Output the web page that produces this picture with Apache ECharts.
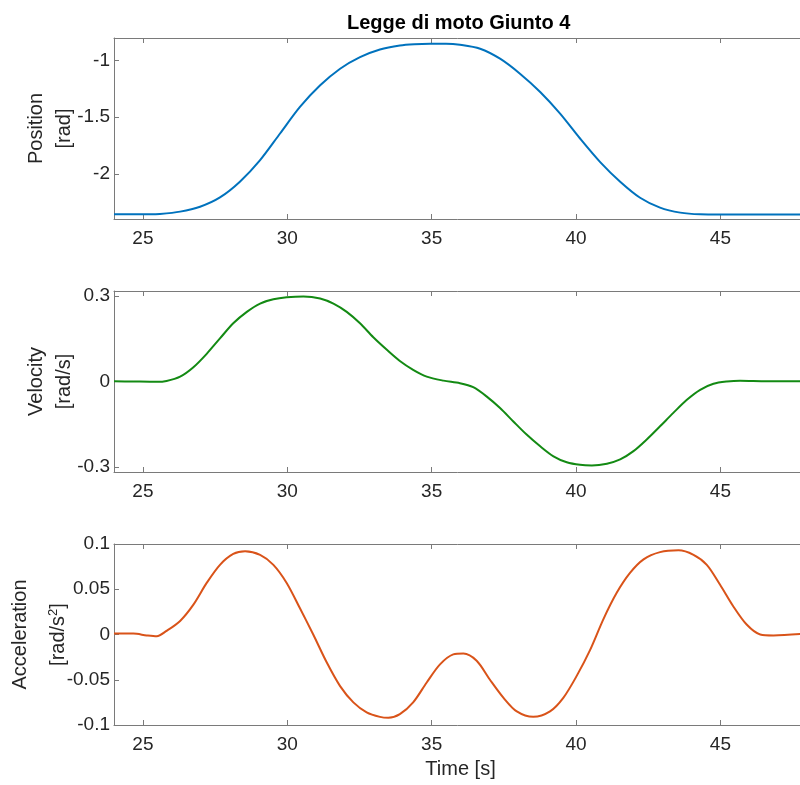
<!DOCTYPE html>
<html style="height: 100%">
<head>
    <meta charset="utf-8">
    <script src="https://cdn.jsdelivr.net/npm/echarts@6/dist/echarts.min.js"></script>
</head>
<body style="height: 100%; margin: 0; background: #fff">
<div id="container" style="width: 800px; height: 785px"></div>

<script type="text/javascript">
    // values
    var posT = [24, 25.25, 25.59, 26.29, 26.98, 27.67, 28.36, 29.06, 29.75, 30.44, 31.14, 31.83, 32.52, 33.21, 33.9, 34.4, 34.95, 35.5, 35.98, 36.68, 37.37, 38.06, 38.76, 39.45, 40.14, 40.83, 41.53, 42.22, 42.91, 43.61, 44.3, 45, 46, 47, 48];
    var posV = [-2.354, -2.354, -2.351, -2.330, -2.287, -2.205, -2.067, -1.877, -1.643, -1.409, -1.219, -1.073, -0.971, -0.904, -0.868, -0.857, -0.853, -0.853, -0.862, -0.897, -0.985, -1.117, -1.278, -1.468, -1.687, -1.892, -2.067, -2.208, -2.295, -2.339, -2.354, -2.356, -2.356, -2.356, -2.356];

    var velT = [24, 24.67, 25.48, 25.82, 26.29, 26.75, 27.21, 27.67, 28.13, 28.6, 29.06, 29.52, 29.98, 30.56, 31.14, 31.6, 32.06, 32.52, 32.98, 33.45, 33.9, 34.36, 34.83, 35.41, 35.98, 36.44, 36.9, 37.37, 37.83, 38.29, 38.76, 39.22, 39.68, 40.14, 40.55, 41.07, 41.53, 41.99, 42.45, 42.91, 43.37, 43.84, 44.3, 44.76, 45.22, 45.68, 46.6, 48];
    var velV = [0.001, 0.000, -0.001, 0.002, 0.017, 0.050, 0.097, 0.151, 0.204, 0.244, 0.273, 0.288, 0.295, 0.298, 0.291, 0.273, 0.244, 0.204, 0.155, 0.111, 0.072, 0.041, 0.017, 0.003, -0.006, -0.020, -0.052, -0.093, -0.140, -0.186, -0.227, -0.262, -0.283, -0.292, -0.294, -0.288, -0.273, -0.244, -0.203, -0.157, -0.110, -0.064, -0.029, -0.008, 0.000, 0.003, 0.001, 0.001];

    var accT = [24, 24.67, 25.13, 25.48, 25.82, 26.29, 26.75, 27.21, 27.67, 28.13, 28.54, 29.06, 29.52, 29.98, 30.44, 30.9, 31.37, 31.83, 32.29, 32.75, 33.21, 33.5, 33.9, 34.36, 34.83, 35.29, 35.75, 36.1, 36.56, 37.02, 37.49, 37.95, 38.52, 39.1, 39.56, 40.02, 40.49, 40.95, 41.41, 41.87, 42.34, 42.91, 43.55, 44.07, 44.53, 44.99, 45.45, 45.91, 46.38, 46.84, 48];
    var accV = [0.001, 0.001, -0.001, -0.002, 0.004, 0.015, 0.033, 0.057, 0.077, 0.089, 0.092, 0.088, 0.077, 0.057, 0.029, 0.000, -0.031, -0.057, -0.075, -0.086, -0.091, -0.092, -0.088, -0.075, -0.053, -0.033, -0.022, -0.021, -0.029, -0.050, -0.070, -0.085, -0.091, -0.085, -0.070, -0.046, -0.017, 0.017, 0.046, 0.068, 0.083, 0.091, 0.093, 0.088, 0.077, 0.055, 0.031, 0.011, 0.000, -0.001, 0.001];

    var xTicks = [25, 30, 35, 40, 45];
    var posTicks = [-2, -1.5, -1];
    var velTicks = [-0.3, 0, 0.3];
    var accTicks = [-0.1, -0.05, 0, 0.05, 0.1];

    function pairs(t, v) {
        var out = [];
        for (var i = 0; i < t.length; i++) out.push([t[i], v[i]]);
        return out;
    }

    var dom = document.getElementById("container");
    var myChart = echarts.init(dom);
    var font = '"Liberation Sans", Arial, Helvetica, sans-serif';
    var axisGray = '#7a7a7a';
    var textDark = '#262626';

    var grids = [
        {left: 114, top: 38, width: 693, height: 181, outerBoundsMode: 'none'},
        {left: 114, top: 291, width: 693, height: 181, outerBoundsMode: 'none'},
        {left: 114, top: 544, width: 693, height: 181, outerBoundsMode: 'none'}
    ];

    var xAxes = [];
    var yAxes = [];
    for (var g = 0; g < 3; g++) {
        xAxes.push({
            gridIndex: g, type: 'value', min: 24, max: 48,
            axisLine: {onZero: false, lineStyle: {color: axisGray, width: 1}},
            axisTick: {inside: true, length: 5, customValues: xTicks, lineStyle: {color: axisGray}},
            axisLabel: {customValues: xTicks, color: textDark, fontSize: 19, fontFamily: font, margin: 10},
            splitLine: {show: false},
            name: g === 2 ? 'Time [s]' : '',
            nameLocation: 'middle', nameGap: 34, nameMoveOverlap: false,
            nameTextStyle: {color: textDark, fontSize: 20, fontFamily: font}
        });
        // top edge of the box
        xAxes.push({
            gridIndex: g, type: 'value', min: 24, max: 48, position: 'top',
            axisLine: {onZero: false, lineStyle: {color: axisGray, width: 1}},
            axisTick: {inside: true, length: 5, customValues: xTicks, lineStyle: {color: axisGray}},
            axisLabel: {show: false},
            splitLine: {show: false}
        });
    }

    var yDefs = [
        {min: -2.395, max: -0.803, ticks: posTicks, name: 'Position\n[rad]', gap: 36, lh: 28},
        {min: -0.317, max: 0.317, ticks: velTicks, name: 'Velocity\n[rad/s]', gap: 36, lh: 28},
        {min: -0.1, max: 0.1, ticks: accTicks, name: 'Acceleration\n[rad/s{sup|2}]', gap: 37, lh: 38}
    ];
    for (var k = 0; k < 3; k++) {
        var d = yDefs[k];
        yAxes.push({
            gridIndex: k, type: 'value', min: d.min, max: d.max,
            axisLine: {show: true, onZero: false, lineStyle: {color: axisGray, width: 1}},
            axisTick: {show: true, inside: true, length: 5, customValues: d.ticks, lineStyle: {color: axisGray}},
            axisLabel: {customValues: d.ticks, color: textDark, fontSize: 19, fontFamily: font, margin: 4},
            splitLine: {show: false},
            name: d.name, nameLocation: 'middle', nameGap: d.gap, nameRotate: 90, nameMoveOverlap: false,
            nameTextStyle: {
                color: textDark, fontSize: 20, fontFamily: font, lineHeight: d.lh,
                rich: {sup: {fontSize: 13, fontFamily: font, color: textDark, padding: [0, 0, 9, 0]}}
            }
        });
    }

    var lineStyle = function (c) {
        return {color: c, width: 2};
    };

    option = {
        animation: false,
        backgroundColor: '#fff',
        title: {
            text: 'Legge di moto Giunto 4',
            left: 342, top: 8,
            textStyle: {fontSize: 20, fontWeight: 'bold', color: '#000', fontFamily: font}
        },
        grid: grids,
        xAxis: xAxes,
        yAxis: yAxes,
        series: [
            {type: 'line', xAxisIndex: 0, yAxisIndex: 0, data: pairs(posT, posV), smooth: 0.3, showSymbol: false, lineStyle: lineStyle('#0072BD'), itemStyle: {color: '#0072BD'}},
            {type: 'line', xAxisIndex: 2, yAxisIndex: 1, data: pairs(velT, velV), smooth: 0.3, showSymbol: false, lineStyle: lineStyle('#138a13'), itemStyle: {color: '#138a13'}},
            {type: 'line', xAxisIndex: 4, yAxisIndex: 2, data: pairs(accT, accV), smooth: 0.3, showSymbol: false, lineStyle: lineStyle('#D95319'), itemStyle: {color: '#D95319'}}
        ]
    };

    if (option && typeof option === "object") {
        myChart.setOption(option, true);
    }
</script>
</body>
</html>
